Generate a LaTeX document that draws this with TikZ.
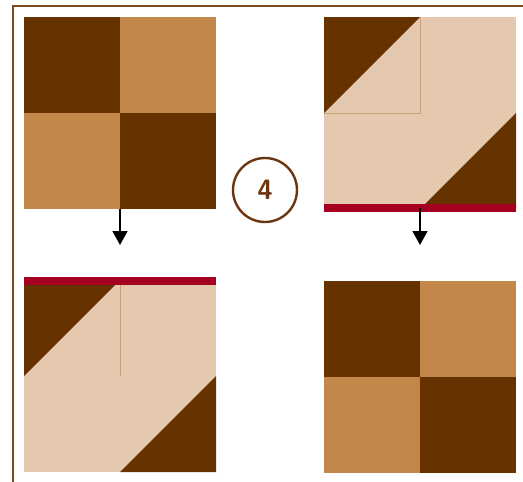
\documentclass[tikz,border=0pt]{standalone}
\usetikzlibrary{arrows.meta}
\definecolor{quiltdark}{HTML}{663300}
\definecolor{quiltmid}{HTML}{C4874A}
\definecolor{quiltlight}{HTML}{E5C9AE}
\definecolor{quiltseam}{HTML}{C9A27C}
\definecolor{quiltred}{HTML}{A50021}
\definecolor{framebrown}{HTML}{7A4A1E}
\definecolor{markbrown}{HTML}{6B3510}
\tikzset{
  darkpatch/.style={fill=quiltdark},
  midpatch/.style={fill=quiltmid},
  lightpatch/.style={fill=quiltlight},
  seam/.style={quiltseam, line width=0.8pt},
  redbar/.style={fill=quiltred},
  block/.style={rectangle, minimum size=192pt, inner sep=0pt},
  flow/.style={line width=1.6pt, -{Triangle[width=15pt,length=14pt]}},
  stepmark/.style={circle, draw=markbrown, line width=2.4pt, minimum size=64pt, inner sep=0pt,
    text=markbrown, font=\fontsize{28}{28}\selectfont\sffamily\bfseries}
}
\begin{document}
\begin{tikzpicture}[x=1pt,y=-1pt]
  \useasboundingbox (0,0) rectangle (523,482);
  \draw[framebrown, line width=2pt] (13,483) -- (13,6) -- (524,6);

  % block A: four patches
  \fill[darkpatch] (24,17) rectangle (120,113);
  \fill[midpatch] (120,17) rectangle (216,113);
  \fill[midpatch] (24,113) rectangle (120,209);
  \fill[darkpatch] (120,113) rectangle (216,209);
  \node[block] (blockA) at (120,113) {};

  % block B: folded, red edge below
  \fill[lightpatch] (324,17) rectangle (516,209);
  \fill[darkpatch] (324,17) -- (420,17) -- (324,113) -- cycle;
  \fill[darkpatch] (516,113) -- (516,209) -- (420,209) -- cycle;
  \draw[seam] (420,17) -- (420,113) -- (324,113);
  \fill[redbar] (324,204) rectangle (516,212);
  \node[block] (blockB) at (420,112) {};

  % block C: folded, red edge above
  \fill[lightpatch] (24,280) rectangle (216,472);
  \fill[darkpatch] (24,280) -- (120,280) -- (24,376) -- cycle;
  \fill[darkpatch] (216,376) -- (216,472) -- (120,472) -- cycle;
  \draw[seam] (120,280) -- (120,376);
  \fill[redbar] (24,277) rectangle (216,285);
  \node[block] (blockC) at (120,376) {};

  % block D: four patches
  \fill[darkpatch] (324,281) rectangle (420,377);
  \fill[midpatch] (420,281) rectangle (516,377);
  \fill[midpatch] (324,377) rectangle (420,473);
  \fill[darkpatch] (420,377) rectangle (516,473);
  \node[block] (blockD) at (420,377) {};

  \node[stepmark] (step4) at (265,190) {4};

  \coordinate (endA) at (120,245);
  \coordinate (endB) at (420,245);
  \draw[flow] (blockA.south) -- (endA);
  \draw[flow] (blockB.south) -- (endB);
\end{tikzpicture}
\end{document}
